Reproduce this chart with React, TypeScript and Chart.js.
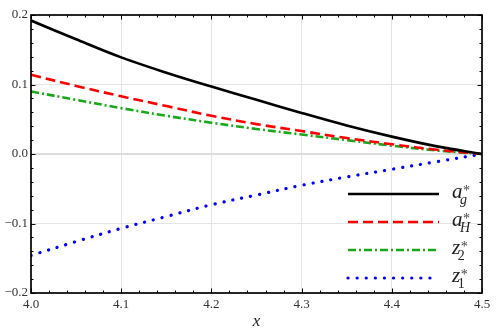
import React, { useEffect, useRef } from 'react';
import { Chart, registerables } from 'chart.js';

Chart.register(...registerables);

const xValues = [4.0, 4.05, 4.1, 4.15, 4.2, 4.25, 4.3, 4.35, 4.4, 4.45, 4.5];
const agValues = [0.192, 0.165, 0.139, 0.117, 0.097, 0.078, 0.059, 0.041, 0.025, 0.011, 0];
const aHValues = [0.114, 0.098, 0.083, 0.069, 0.055, 0.043, 0.033, 0.023, 0.014, 0.006, 0];
const z2Values = [0.090, 0.078, 0.066, 0.055, 0.045, 0.036, 0.028, 0.020, 0.012, 0.005, 0];
const z1Values = [-0.146, -0.126, -0.107, -0.090, -0.073, -0.059, -0.045, -0.033, -0.022, -0.011, 0];

const xTicks = [4.0, 4.1, 4.2, 4.3, 4.4, 4.5];
const yTicks = [-0.2, -0.1, 0.0, 0.1, 0.2];
const xTitle = 'x';
const legendBases = ['a', 'a', 'z', 'z'];
const legendSubs = ['g', 'H', '2', '1'];
const legendSubItalic = [true, true, false, false];

const SERIF = '"Liberation Serif", "Times New Roman", serif';

const styles = [
  { color: '#000000', dash: [] as number[], width: 2.6, cap: 'butt' },
  { color: '#ff0000', dash: [10, 5], width: 2.6, cap: 'butt' },
  { color: '#1aa81a', dash: [8, 3, 2, 3], width: 2.6, cap: 'butt' },
  { color: '#0000ff', dash: [0.1, 9], width: 3.2, cap: 'round' },
];

const fmt = (v: number) => {
  if (Math.abs(v) < 1e-9) return '0.0';
  return (v < 0 ? '\u2212' : '') + Math.abs(v).toFixed(1);
};

const framePlugin = {
  id: 'mmaFrame',
  afterDatasetsDraw(chart: any) {
    const { ctx, chartArea: a, scales } = chart;
    const xs = scales.x;
    const ys = scales.y;
    ctx.save();
    ctx.strokeStyle = '#000';
    ctx.lineWidth = 1;
    ctx.setLineDash([]);
    for (let i = 0; i <= 25; i++) {
      const v = xTicks[0] + i * 0.02;
      const px = Math.round(xs.getPixelForValue(v)) + 0.5;
      const len = i % 5 === 0 ? 4.5 : 2.5;
      ctx.beginPath();
      ctx.moveTo(px, a.bottom);
      ctx.lineTo(px, a.bottom - len);
      ctx.moveTo(px, a.top);
      ctx.lineTo(px, a.top + len);
      ctx.stroke();
    }
    for (let i = 0; i <= 20; i++) {
      const v = yTicks[0] + i * 0.02;
      const py = Math.round(ys.getPixelForValue(v)) + 0.5;
      const len = i % 5 === 0 ? 4.5 : 2.5;
      ctx.beginPath();
      ctx.moveTo(a.left, py);
      ctx.lineTo(a.left + len, py);
      ctx.moveTo(a.right, py);
      ctx.lineTo(a.right - len, py);
      ctx.stroke();
    }
    ctx.lineWidth = 1.7;
    ctx.strokeRect(a.left, a.top, a.right - a.left, a.bottom - a.top);

    // legend
    const rowsY = [a.bottom - 99, a.bottom - 71, a.bottom - 43, a.bottom - 15];
    const x0 = a.right - 134;
    const x1 = a.right - 43;
    const tx = a.right - 30;
    for (let i = 0; i < 4; i++) {
      const s = styles[i];
      const y = rowsY[i];
      ctx.beginPath();
      ctx.strokeStyle = s.color;
      ctx.lineWidth = s.width;
      ctx.lineCap = s.cap;
      ctx.setLineDash(s.dash);
      ctx.moveTo(x0, y);
      ctx.lineTo(x1, y);
      ctx.stroke();
      ctx.setLineDash([]);
      ctx.lineCap = 'butt';

      ctx.fillStyle = '#222';
      ctx.textBaseline = 'alphabetic';
      ctx.textAlign = 'left';
      ctx.font = `italic 21px ${SERIF}`;
      ctx.fillText(legendBases[i], tx, y + 3.5);
      const w = ctx.measureText(legendBases[i]).width;
      ctx.font = `${legendSubItalic[i] ? 'italic ' : ''}14px ${SERIF}`;
      ctx.fillText(legendSubs[i], tx + w - 2.5, y + 10);
      ctx.font = `14px ${SERIF}`;
      ctx.fillStyle = '#444';
      ctx.fillText('*', tx + w + 0.5, y + 0.5);
    }

    // x axis title
    ctx.fillStyle = '#222';
    ctx.font = `italic 17px ${SERIF}`;
    ctx.textAlign = 'center';
    ctx.textBaseline = 'alphabetic';
    ctx.fillText(xTitle, (a.left + a.right) / 2, 326);
    ctx.restore();
  },
};

export default function App() {
  const ref = useRef<HTMLCanvasElement | null>(null);
  useEffect(() => {
    if (!ref.current) return;
    const series = [agValues, aHValues, z2Values, z1Values];
    const chart = new Chart(ref.current, {
      type: 'line',
      data: {
        datasets: series.map((vals, i) => ({
          label: legendBases[i] + legendSubs[i],
          data: xValues.map((x, j) => ({ x, y: vals[j] })),
          borderColor: styles[i].color,
          borderWidth: styles[i].width,
          borderDash: styles[i].dash,
          borderCapStyle: styles[i].cap as any,
          pointRadius: 0,
          fill: false,
          tension: 0.35,
        })),
      },
      options: {
        responsive: false,
        animation: false,
        layout: { padding: { top: 15, right: 17, left: 0, bottom: 0 } },
        plugins: { legend: { display: false }, tooltip: { enabled: false } },
        scales: {
          x: {
            type: 'linear',
            min: xTicks[0],
            max: xTicks[xTicks.length - 1],
            afterBuildTicks: (s: any) => { s.ticks = xTicks.map((v) => ({ value: v })); },
            afterFit: (s: any) => { s.height = 38; },
            border: { display: false },
            grid: {
              drawTicks: false,
              color: (c: any) => {
                const v = c.tick ? c.tick.value : 0;
                return v <= xTicks[0] + 1e-9 || v >= xTicks[xTicks.length - 1] - 1e-9 ? 'rgba(0,0,0,0)' : '#e4e4e4';
              },
              lineWidth: 1,
            },
            ticks: {
              padding: 4,
              color: '#333',
              font: { family: SERIF, size: 13 },
              maxRotation: 0,
              callback: (v: any) => Number(v).toFixed(1),
            },
          },
          y: {
            type: 'linear',
            min: yTicks[0],
            max: yTicks[yTicks.length - 1],
            afterBuildTicks: (s: any) => { s.ticks = yTicks.map((v) => ({ value: v })); },
            afterFit: (s: any) => { s.width = 31; },
            border: { display: false },
            grid: {
              drawTicks: false,
              color: (c: any) => {
                const v = c.tick ? c.tick.value : 0;
                if (Math.abs(v) > 0.19) return 'rgba(0,0,0,0)';
                if (Math.abs(v) < 1e-9) return '#dddddd';
                return '#e4e4e4';
              },
              lineWidth: (c: any) => (c.tick && Math.abs(c.tick.value) < 1e-9 ? 2 : 1),
            },
            ticks: {
              padding: 3,
              color: '#333',
              font: { family: SERIF, size: 13 },
              callback: (v: any) => fmt(Number(v)),
            },
          },
        },
      },
      plugins: [framePlugin],
    });
    return () => chart.destroy();
  }, []);
  return (
    <div style={{ position: 'fixed', left: 0, top: 0, width: 499, height: 331, background: '#fff' }}>
      <canvas ref={ref} width={499} height={331} style={{ display: 'block', width: 499, height: 331 }} />
    </div>
  );
}
